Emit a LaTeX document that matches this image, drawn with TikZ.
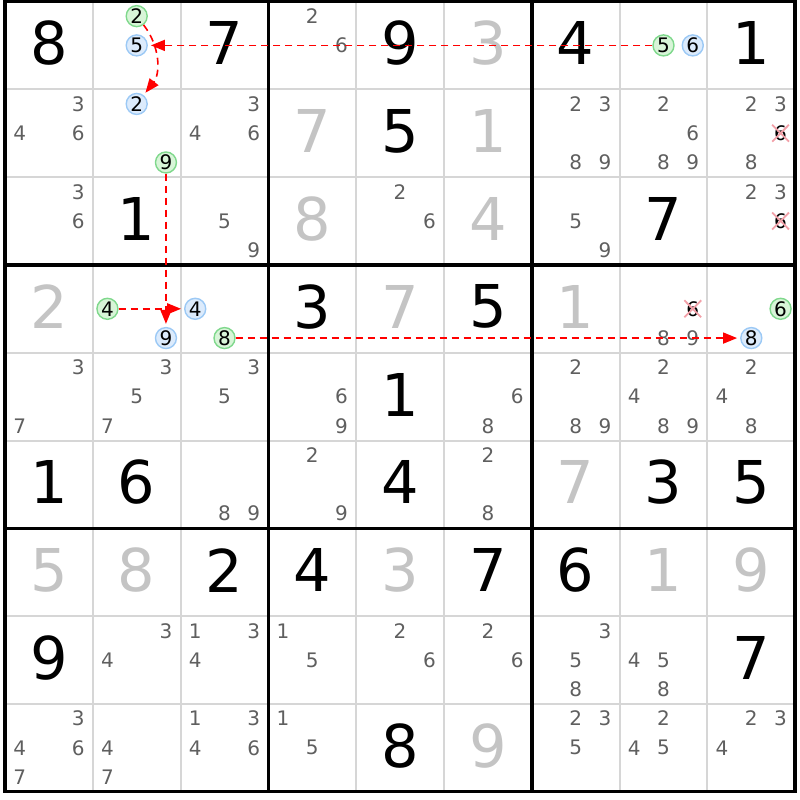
\documentclass[tikz,border=0pt]{standalone}
\usepackage{fontspec}
\setmainfont{DejaVu Sans}
\usetikzlibrary{arrows.meta,shapes.misc}
\definecolor{candgray}{HTML}{5F5F5F}
\definecolor{givengray}{HTML}{C4C4C4}
\definecolor{thingray}{HTML}{D6D6D6}
\definecolor{online}{HTML}{7FD88C}
\definecolor{onfill}{HTML}{D8F5D8}
\definecolor{offline}{HTML}{9CC9F5}
\definecolor{offfill}{HTML}{DCEBFC}
\definecolor{xpink}{HTML}{F2A0A8}
\definecolor{chainred}{HTML}{FF0000}
\newcommand\cands[3]{\foreach \d in {#3}{\node[cand] (n#1#2\d) at ({#2-0.5+(mod(\d-1,3)-1)/3},{#1-0.5+(floor((\d-1)/3)-1)/3}) {\d};}}
\newcommand\chaincand[4]{\node[#1] (n#2#3#4) at ({#3-0.5+(mod(#4-1,3)-1)/3},{#2-0.5+(floor((#4-1)/3)-1)/3}) {#4};}
\begin{document}
\begin{tikzpicture}[x=87.8pt,y=-87.8pt]
\tikzstyle{every node}+=[inner sep=0pt]
\tikzset{
  thinline/.style={thingray,line width=2pt},
  boxline/.style={black,line width=3.5pt},
  solved/.style={font=\fontsize{59}{59}\selectfont,yshift=2pt},
  given/.style={solved,text=givengray},
  cand/.style={text=candgray,font=\fontsize{20}{20}\selectfont},
  on/.style={cand,text=black,circle,draw=online,fill=onfill,line width=1.4pt,minimum size=21pt},
  off/.style={cand,text=black,circle,draw=offline,fill=offfill,line width=1.4pt,minimum size=21pt},
  crossed/.style={cand,text=black,cross out,draw=xpink,line width=1.8pt,minimum size=15pt},
  chain/.style={draw=chainred,line width=1.6pt,dash pattern=on 7pt off 5pt,shorten >=3pt,-{Triangle[length=14pt,width=11pt]}}
}
\useasboundingbox (-5pt,1.5pt) rectangle (795pt,-798.5pt);
\foreach \i in {1,2,4,5,7,8} {
  \draw[thinline] (\i,0) -- (\i,9);
  \draw[thinline] (0,\i) -- (9,\i);
}
\foreach \i in {3,6} {
  \draw[boxline] (\i,0) -- (\i,9);
  \draw[boxline] (0,\i) -- (9,\i);
}
\draw[boxline] (0,0) rectangle (9,9);
\foreach \r/\c/\v in {1/1/8,1/3/7,1/5/9,1/7/4,1/9/1,2/5/5,3/2/1,3/8/7,4/4/3,4/6/5,
  5/5/1,6/1/1,6/2/6,6/5/4,6/8/3,6/9/5,7/3/2,7/4/4,7/6/7,7/7/6,8/1/9,8/9/7,9/5/8}
  \node[solved] (v\r\c) at (\c-0.5,\r-0.5) {\v};
\foreach \r/\c/\v in {1/6/3,2/4/7,2/6/1,3/4/8,3/6/4,4/1/2,4/5/7,4/7/1,6/7/7,
  7/1/5,7/2/8,7/5/3,7/8/1,7/9/9,9/6/9}
  \node[given] (v\r\c) at (\c-0.5,\r-0.5) {\v};
\cands{1}{4}{2,6}
\cands{2}{1}{3,4,6} \cands{2}{3}{3,4,6} \cands{2}{7}{2,3,8,9} \cands{2}{8}{2,6,8,9} \cands{2}{9}{2,3,8}
\cands{3}{1}{3,6} \cands{3}{3}{5,9} \cands{3}{5}{2,6} \cands{3}{7}{5,9} \cands{3}{9}{2,3}
\cands{4}{8}{8,9}
\cands{5}{1}{3,7} \cands{5}{2}{3,5,7} \cands{5}{3}{3,5} \cands{5}{4}{6,9} \cands{5}{6}{6,8}
\cands{5}{7}{2,8,9} \cands{5}{8}{2,4,8,9} \cands{5}{9}{2,4,8}
\cands{6}{3}{8,9} \cands{6}{4}{2,9} \cands{6}{6}{2,8}
\cands{8}{2}{3,4} \cands{8}{3}{1,3,4} \cands{8}{4}{1,5} \cands{8}{5}{2,6} \cands{8}{6}{2,6}
\cands{8}{7}{3,5,8} \cands{8}{8}{4,5,8}
\cands{9}{1}{3,4,6,7} \cands{9}{2}{4,7} \cands{9}{3}{1,3,4,6} \cands{9}{4}{1,5}
\cands{9}{7}{2,3,5} \cands{9}{8}{2,4,5} \cands{9}{9}{2,3,4}
\chaincand{crossed}{2}{9}{6} \chaincand{crossed}{3}{9}{6} \chaincand{crossed}{4}{8}{6}
\chaincand{on}{1}{2}{2} \chaincand{off}{1}{2}{5}
\chaincand{off}{2}{2}{2} \chaincand{on}{2}{2}{9}
\chaincand{on}{1}{8}{5} \chaincand{off}{1}{8}{6}
\chaincand{on}{4}{2}{4} \chaincand{off}{4}{2}{9}
\chaincand{off}{4}{3}{4} \chaincand{on}{4}{3}{8}
\chaincand{on}{4}{9}{6} \chaincand{off}{4}{9}{8}
\draw[chain] (n185.west) -- (n125.east);
\draw[chain] (n122) to[bend left=38] (n222);
\draw[chain] (n229) -- (n429);
\draw[chain] (n424) -- (n434);
\draw[chain] (n438) -- (n498);
\end{tikzpicture}
\end{document}
